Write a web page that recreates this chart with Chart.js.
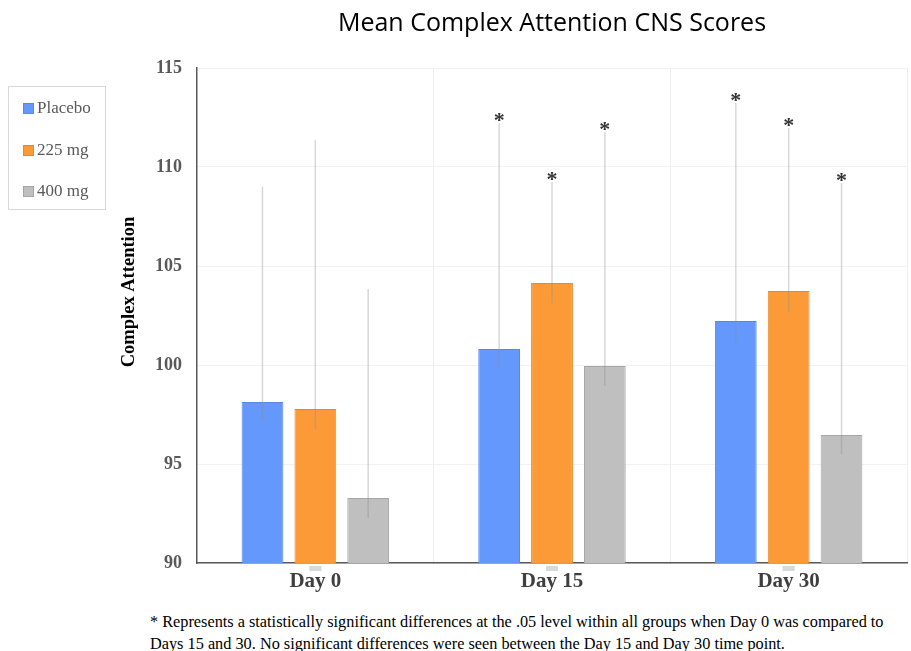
<!DOCTYPE html>
<html>
<head>
<meta charset="utf-8">
<script src="https://cdn.jsdelivr.net/npm/chart.js@4"></script>
<style>
  body { margin: 0; background: #fff; width: 911px; height: 651px; position: relative; overflow: hidden; }
  #wrap { position: absolute; left: 0; top: 0; width: 911px; height: 600px; }
  #legend { position: absolute; left: 8px; top: 86px; width: 96px; height: 122px; border: 1px solid #d9d9d9;
            font-family: "Liberation Serif", serif; font-size: 17px; color: #595959; }
  .item { position: absolute; left: 14px; height: 20px; line-height: 20px; white-space: nowrap; }
  .sw { display: inline-block; width: 11px; height: 11px; margin-right: 3px; vertical-align: -1px; }
  #note { position: absolute; left: 150px; top: 611px; font-family: "Liberation Serif", serif; font-size: 16.3px;
          line-height: 22px; color: #000; white-space: nowrap; }
</style>
</head>
<body>
<div id="wrap"><canvas id="myChart"></canvas></div>
<div id="legend"></div>
<div id="note">* Represents a statistically significant differences at the .05 level within all groups when Day 0 was compared to<br>Days 15 and 30. No significant differences were seen between the Day 15 and Day 30 time point.</div>
<script>
const categories = ["Day 0", "Day 15", "Day 30"];
const seriesNames = ["Placebo", "225 mg", "400 mg"];

const placebo = [98.13, 100.81, 102.22];
const mg225 = [97.78, 104.14, 103.74];
const mg400 = [93.28, 99.95, 96.46];

// error bars are asymmetric in the source
const placeboErrPlus = [10.87, 11.41, 11.01];
const mg225ErrPlus = [13.58, 5.10, 8.23];
const mg400ErrPlus = [10.56, 11.82, 12.73];
const placeboErrMinus = [1.01, 1.01, 1.06];
const mg225ErrMinus = [1.01, 1.04, 1.06];
const mg400ErrMinus = [1.01, 1.01, 0.96];

// asterisk = significant vs Day 0
const placeboSig = [false, true, true];
const mg225Sig = [false, true, true];
const mg400Sig = [false, true, true];

const yTicks = [90, 95, 100, 105, 110, 115];
const yTitle = "Complex Attention";

const fills = ["#6498fd", "#fd9a38", "#bfbfbf"];
const borders = ["#5a88e0", "#e5892f", "#a6a6a6"];

const errPlus = [placeboErrPlus, mg225ErrPlus, mg400ErrPlus];
const errMinus = [placeboErrMinus, mg225ErrMinus, mg400ErrMinus];
const sig = [placeboSig, mg225Sig, mg400Sig];

// legend
const legendBox = document.getElementById("legend");
seriesNames.forEach((name, i) => {
    const div = document.createElement("div");
    div.className = "item";
    div.style.top = (11 + i * 41.5) + "px";
    div.innerHTML = `<span class="sw" style="background:${fills[i]};border:1px solid ${borders[i]};box-sizing:border-box"></span>${name}`;
    legendBox.appendChild(div);
});

const errorBars = {
    id: "errorBars",
    afterDatasetsDraw(chart) {
        const ctx = chart.ctx;
        const y = chart.scales.y;
        ctx.save();
        chart.data.datasets.forEach((ds, di) => {
            const meta = chart.getDatasetMeta(di);
            meta.data.forEach((bar, i) => {
                const v = ds.data[i];
                const hi = y.getPixelForValue(v + errPlus[di][i]);
                const lo = y.getPixelForValue(v - errMinus[di][i]);
                ctx.strokeStyle = "rgba(140,140,140,0.35)";
                ctx.lineWidth = 1.5;
                ctx.beginPath();
                ctx.moveTo(bar.x, lo);
                ctx.lineTo(bar.x, hi);
                ctx.stroke();
                if (sig[di][i]) {
                    ctx.fillStyle = "#333";
                    ctx.font = "bold 22px 'Liberation Serif'";
                    ctx.textAlign = "center";
                    ctx.textBaseline = "alphabetic";
                    ctx.fillText("*", bar.x, hi + 4);
                }
            });
        });
        // small grey markers under the axis
        const x = chart.scales.x;
        ctx.fillStyle = "#d9d9d9";
        categories.forEach((c, i) => {
            const px = x.getPixelForValue(i);
            ctx.fillRect(px - 6, chart.chartArea.bottom + 3, 12, 5);
        });
        // y axis title, sits a bit above the middle in the source
        ctx.translate(129, 292);
        ctx.rotate(-Math.PI / 2);
        ctx.fillStyle = "#000";
        ctx.font = "bold 18.5px 'Liberation Serif'";
        ctx.textAlign = "center";
        ctx.textBaseline = "middle";
        ctx.fillText(yTitle, 0, 0);
        ctx.restore();
    }
};

const ctx = document.getElementById("myChart");
new Chart(ctx, {
    type: "bar",
    data: {
        labels: categories,
        datasets: [
            { label: seriesNames[0], data: placebo, backgroundColor: fills[0], borderColor: borders[0], borderWidth: 1 },
            { label: seriesNames[1], data: mg225, backgroundColor: fills[1], borderColor: borders[1], borderWidth: 1 },
            { label: seriesNames[2], data: mg400, backgroundColor: fills[2], borderColor: borders[2], borderWidth: 1 }
        ]
    },
    options: {
        responsive: true,
        maintainAspectRatio: false,
        animation: false,
        layout: { padding: { left: 0, right: 4, top: 0, bottom: 0 } },
        datasets: { bar: { barPercentage: 0.79, categoryPercentage: 0.67 } },
        plugins: {
            legend: { display: false },
            tooltip: { enabled: false },
            title: {
                display: true,
                fullSize: false,
                text: "Mean Complex Attention CNS Scores",
                color: "#000",
                font: { family: "'Open Sans'", size: 25, weight: "normal" },
                padding: { top: 9, bottom: 29 }
            }
        },
        scales: {
            x: {
                offset: true,
                grid: { display: true, color: "#efefef", drawTicks: false, offset: true },
                border: { color: "#595959", width: 1.5 },
                ticks: { color: "#3f3f3f", font: { family: "'Liberation Serif'", size: 21, weight: "bold" }, padding: 6 },
                afterFit(scale) { scale.height = 37; }
            },
            y: {
                min: 90,
                max: 115,
                afterBuildTicks(scale) { scale.ticks = yTicks.map(v => ({ value: v })); },
                grid: { color: "#f2f2f2", drawTicks: false },
                border: { color: "#595959", width: 1.5 },
                ticks: { color: "#595959", font: { family: "'Liberation Serif'", size: 18, weight: "bold" }, padding: 15 },
                afterFit(scale) { scale.width = 197; }
            }
        }
    },
    plugins: [errorBars]
});
</script>
</body>
</html>
